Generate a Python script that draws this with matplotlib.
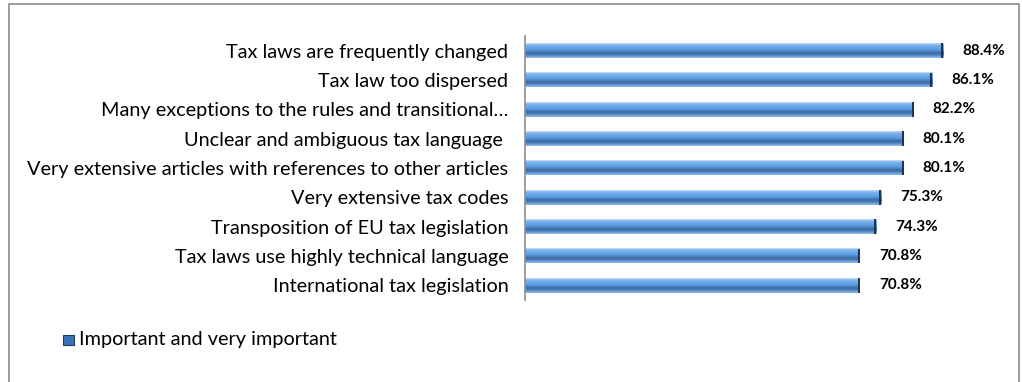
import numpy as np
import matplotlib.pyplot as plt
from matplotlib.patches import Rectangle

categories = [
    "Tax laws are frequently changed",
    "Tax law too dispersed",
    "Many exceptions to the rules and transitional\u2026",
    "Unclear and ambiguous tax language ",
    "Very extensive articles with references to other articles",
    "Very extensive tax codes",
    "Transposition of EU tax legislation",
    "Tax laws use highly technical language",
    "International tax legislation",
]
values = [88.4, 86.1, 82.2, 80.1, 80.1, 75.3, 74.3, 70.8, 70.8]
value_labels = ["88.4%", "86.1%", "82.2%", "80.1%", "80.1%", "75.3%", "74.3%", "70.8%", "70.8%"]
legend_label = "Important and very important"

plt.rcParams['font.family'] = ['Lato', 'DejaVu Sans']

fig = plt.figure(figsize=(10.22, 3.82), dpi=100)
# outer chart frame (cut at the bottom like in the original)
fig.patches.append(Rectangle((9 / 1022, -0.1), (1019 - 9) / 1022, 1.1 - 4 / 382,
                             transform=fig.transFigure, fill=False,
                             edgecolor='#8c8c8c', linewidth=1.2))

ax = fig.add_axes([525 / 1022, 1 - 300 / 382, (998 - 525) / 1022, (300 - 36) / 382])

y = np.arange(len(categories))
bar_h = 0.5

# vertical gradient to fake the bevelled 3D bar look
cmap = plt.matplotlib.colors.LinearSegmentedColormap.from_list(
    'bar', [(0.0, '#c4def6'), (0.12, '#7cb4ee'), (0.45, '#5b9ae0'),
            (0.68, '#3a679c'), (0.82, '#4f86c6'), (1.0, '#8fb9e4')])

for yi, v in zip(y, values):
    ax.imshow(np.linspace(0, 1, 30).reshape(-1, 1), cmap=cmap, aspect='auto',
              extent=[0, v, yi + bar_h / 2, yi - bar_h / 2], zorder=2, interpolation='bilinear')
    ax.add_patch(Rectangle((v - 0.45, yi - bar_h / 2), 0.45, bar_h,
                           facecolor='#1c3554', edgecolor='none', zorder=4))

for yi, v, lab in zip(y, values, value_labels):
    ax.text(v + 4.0, yi, lab, va='center', ha='left', fontsize=11,
            fontweight='bold', color='black')

ax.set_xlim(0, 100)
ax.set_ylim(len(categories) - 0.5, -0.5)
ax.set_yticks(y)
ax.set_yticklabels(categories, fontsize=14.3)
ax.tick_params(axis='y', length=0, pad=12)
ax.set_xticks([])
for s in ['top', 'right', 'bottom']:
    ax.spines[s].set_visible(False)
ax.spines['left'].set_color('#8c8c8c')
ax.spines['left'].set_linewidth(1.2)

# legend
lx, ly = 63 / 1022, 1 - 340 / 382
fig.patches.append(Rectangle((lx, ly - 5 / 382), 11 / 1022, 10 / 382,
                             transform=fig.transFigure, facecolor='#3c72b6',
                             edgecolor='#1e3c63', linewidth=0.8))
fig.text(lx + 16 / 1022, ly, legend_label, fontsize=14.3, va='center', ha='left')

fig.savefig('out.png', dpi=100)
